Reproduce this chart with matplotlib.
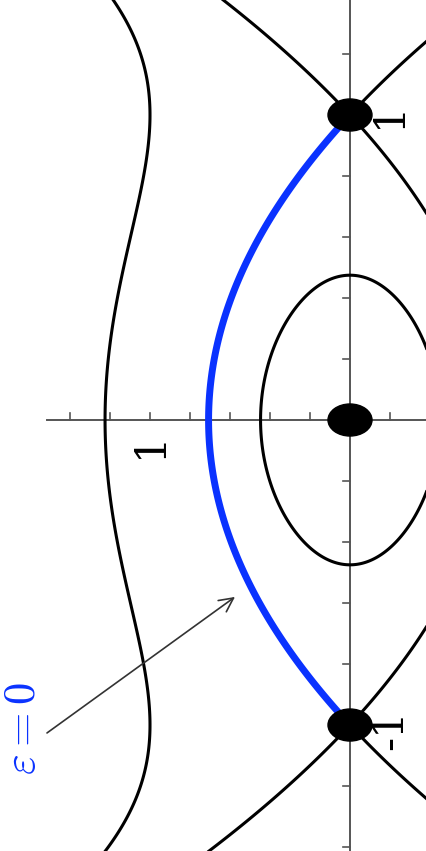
import numpy as np
import matplotlib.pyplot as plt
from matplotlib.patches import Ellipse

# phase portrait of x'' = -x + x^3, drawn rotated by 90 degrees
# (screen horizontal = -y, screen vertical = x)
inner_level = 0.1
separatrix_level = 0.25
outer_level = 0.75
equilibria_x = [-1.0, 0.0, 1.0]
y_axis_ticks = [-1.4, -1.2, -1.0, -0.8, -0.6, -0.4, -0.2, 0.2]   # screen u positions
x_axis_ticks = [-1.4, -1.2, -1.0, -0.8, -0.6, -0.4, -0.2, 0.2, 0.4, 0.6, 0.8, 1.0, 1.2]

blue = '#0a32ff'
plt.rcParams['mathtext.fontset'] = 'cm'

fig = plt.figure(figsize=(4.27, 8.51), dpi=100)
ax = fig.add_axes([0, 0, 1, 1])
ax.set_xlim(-1.75, 0.385)
ax.set_ylim(-1.413, 1.377)
ax.axis('off')

x = np.linspace(-1.7, 1.7, 700)
y = np.linspace(-0.7, 1.9, 600)
X, Y = np.meshgrid(x, y)
H = Y**2 / 2 + X**2 / 2 - X**4 / 4

# axes lines
ax.plot([-1.515, 0.385], [0, 0], color='#555555', lw=1.4, zorder=1)
ax.plot([0, 0], [-1.413, 1.377], color='#555555', lw=1.4, zorder=1)
for t in y_axis_ticks:
    ax.plot([t, t], [0, 0.023], color='#555555', lw=1.2, zorder=1)
for t in x_axis_ticks:
    ax.plot([-0.035, 0], [t, t], color='#555555', lw=1.2, zorder=1)

# level curves
H_inner = np.ma.masked_where(np.abs(X) > 1.0, H)
ax.contour(-Y, X, H_inner, levels=[inner_level], colors='black', linewidths=2.2, zorder=2)
ax.contour(-Y, X, H, levels=[separatrix_level, outer_level], colors='black',
           linewidths=2.2, zorder=2)

# upper separatrix between the saddles in blue
Hb = np.ma.masked_where((np.abs(X) > 1.0) | (Y < 0), H)
ax.contour(-Y, X, Hb, levels=[separatrix_level], colors=blue, linewidths=5, zorder=3)

# equilibria
for xe in equilibria_x:
    ax.add_patch(Ellipse((0, xe), 0.22, 0.105, color='black', zorder=4))

# tick labels
lab = dict(rotation=90, ha='center', va='center', fontsize=30,
           family='DejaVu Serif', color='black')
ax.text(-1.0, -0.082, '1', **lab)
ax.text(0.195, 1.0, '1', **lab)
ax.text(0.2, -1.015, '-1', **lab)

# annotation
ax.annotate('', xy=(-0.575, -0.58), xytext=(-1.515, -1.026),
            arrowprops=dict(arrowstyle='->', color='#333333', lw=1.2,
                            mutation_scale=25, shrinkA=0, shrinkB=0))
ax.text(-1.635, -1.01, r'$\varepsilon = 0$', rotation=90, ha='center', va='center',
        fontsize=32, color=blue)

fig.savefig('out.png', dpi=100)
